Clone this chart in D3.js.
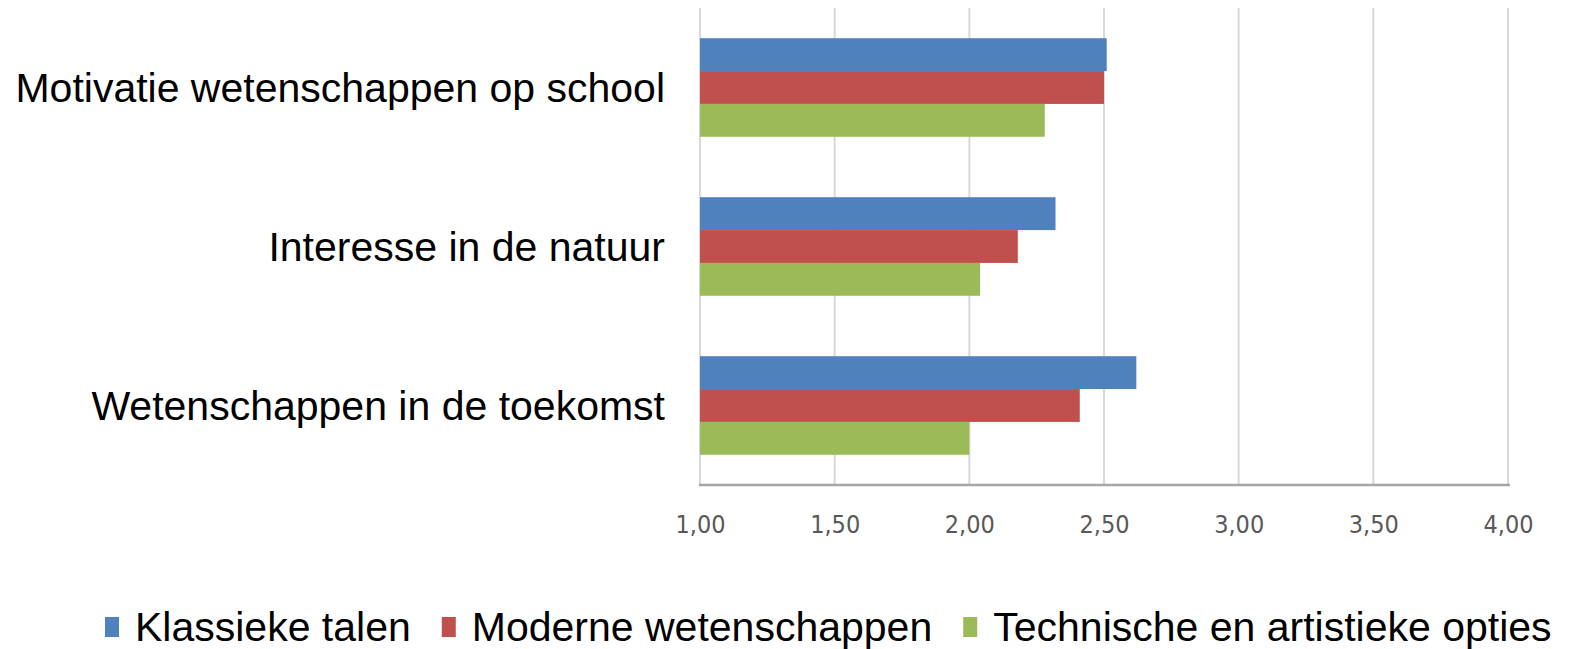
<!DOCTYPE html>
<html>
<head>
<meta charset="utf-8">
<script src="https://cdn.jsdelivr.net/npm/d3@7"></script>
<style>
  body { margin: 0; background: #fff; }
  svg { display: block; }
</style>
</head>
<body>
<svg id="chart"></svg>
<script>
const w = 1570;
const h = 649;

// data
const categories = ["Motivatie wetenschappen op school", "Interesse in de natuur", "Wetenschappen in de toekomst"];
const seriesNames = ["Klassieke talen", "Moderne wetenschappen", "Technische en artistieke opties"];
const klassiekeTalen = [2.51, 2.32, 2.62];
const moderneWetenschappen = [2.50, 2.18, 2.41];
const technischeOpties = [2.28, 2.04, 2.00];
const tickValues = [1.0, 1.5, 2.0, 2.5, 3.0, 3.5, 4.0];
const colors = ["#4f81bd", "#c0504d", "#9bbb59"];

const seriesValues = [klassiekeTalen, moderneWetenschappen, technischeOpties];

const svg = d3.select("#chart")
  .attr("width", w)
  .attr("height", h)
  .attr("viewBox", [0, 0, w, h]);

const plot = { left: 700, right: 1508, top: 8, bottom: 485 };

const x = d3.scaleLinear()
  .domain([1, 4])
  .range([plot.left, plot.right]);

const y = d3.scaleBand()
  .domain(categories)
  .range([plot.top, plot.bottom])
  .paddingInner(0.38)
  .paddingOuter(0.19);

const ySub = d3.scaleBand()
  .domain(seriesNames)
  .range([0, y.bandwidth()]);

// grid lines
svg.append("g")
  .selectAll("line")
  .data(tickValues)
  .join("line")
  .attr("x1", d => x(d))
  .attr("x2", d => x(d))
  .attr("y1", plot.top)
  .attr("y2", plot.bottom)
  .attr("stroke", "#d9d9d9")
  .attr("stroke-width", 2);

// bars
const rows = [];
categories.forEach((c, i) => {
  seriesNames.forEach((s, j) => {
    rows.push({ cat: c, series: s, value: seriesValues[j][i], color: colors[j] });
  });
});

svg.append("g")
  .selectAll("rect")
  .data(rows)
  .join("rect")
  .attr("x", x(1))
  .attr("y", d => y(d.cat) + ySub(d.series))
  .attr("width", d => x(d.value) - x(1))
  .attr("height", ySub.bandwidth())
  .attr("fill", d => d.color);

// bottom axis
const xAxis = d3.axisBottom(x)
  .tickValues(tickValues)
  .tickSize(0)
  .tickPadding(0)
  .tickFormat(d => d3.format(".2f")(d).replace(".", ","));

const axisG = svg.append("g")
  .attr("transform", `translate(0, ${plot.bottom})`)
  .call(xAxis);

axisG.select(".domain")
  .attr("stroke", "#a6a6a6")
  .attr("stroke-width", 2.5)
  .attr("d", `M${plot.left - 1},0H${plot.right + 2}`);

axisG.selectAll("text")
  .attr("y", 39)
  .attr("dy", "0.35em")
  .attr("fill", "#595959")
  .attr("font-family", "'Liberation Sans Narrow', 'DejaVu Sans Condensed', sans-serif")
  .attr("font-size", 25);

// category labels
svg.append("g")
  .selectAll("text")
  .data(categories)
  .join("text")
  .attr("x", 665)
  .attr("y", d => y(d) + y.bandwidth() / 2)
  .attr("dy", "0.35em")
  .attr("text-anchor", "end")
  .attr("font-family", "'Liberation Sans', Arial, sans-serif")
  .attr("font-size", 41)
  .attr("fill", "#000")
  .text(d => d);

// legend
const legend = svg.append("g").attr("transform", "translate(105, 627)");
let lx = 0;
seriesNames.forEach((s, i) => {
  const item = legend.append("g").attr("transform", `translate(${lx}, 0)`);
  item.append("rect")
    .attr("x", 0)
    .attr("y", -10)
    .attr("width", 14)
    .attr("height", 20)
    .attr("fill", colors[i]);
  const t = item.append("text")
    .attr("x", 30)
    .attr("y", 0)
    .attr("dy", "0.35em")
    .attr("font-family", "'Liberation Sans', Arial, sans-serif")
    .attr("font-size", 41)
    .attr("fill", "#000")
    .text(s);
  lx += 30 + t.node().getComputedTextLength() + 31;
});
</script>
</body>
</html>
